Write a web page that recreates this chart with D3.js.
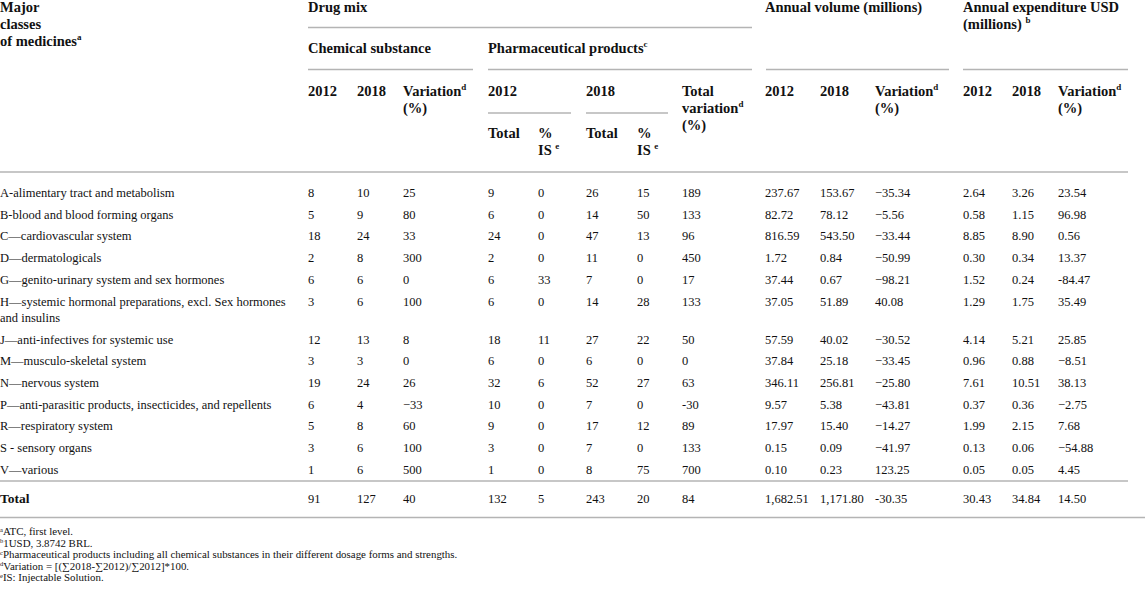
<!DOCTYPE html>
<html>
<head>
<meta charset="utf-8">
<script src="https://cdn.jsdelivr.net/npm/d3@7"></script>
<style>
  body { margin: 0; background: #fff; }
  text { font-family: "Liberation Serif", "Times New Roman", serif; fill: #111; }
</style>
</head>
<body>
<svg id="table" width="1145" height="600"></svg>
<script>
"use strict";

// data
const classes = [
    "A-alimentary tract and metabolism",
    "B-blood and blood forming organs",
    "C\u2014cardiovascular system",
    "D\u2014dermatologicals",
    "G\u2014genito-urinary system and sex hormones",
    "H\u2014systemic hormonal preparations, excl. Sex hormones and insulins",
    "J\u2014anti-infectives for systemic use",
    "M\u2014musculo-skeletal system",
    "N\u2014nervous system",
    "P\u2014anti-parasitic products, insecticides, and repellents",
    "R\u2014respiratory system",
    "S - sensory organs",
    "V\u2014various"
];
const chem2012 = [8, 5, 18, 2, 6, 3, 12, 3, 19, 6, 5, 3, 1];
const chem2018 = [10, 9, 24, 8, 6, 6, 13, 3, 24, 4, 8, 6, 6];
const chemVar  = ["25", "80", "33", "300", "0", "100", "8", "0", "26", "\u221233", "60", "100", "500"];
const pp2012   = [9, 6, 24, 2, 6, 6, 18, 6, 32, 10, 9, 3, 1];
const pp2012IS = [0, 0, 0, 0, 33, 0, 11, 0, 6, 0, 0, 0, 0];
const pp2018   = [26, 14, 47, 11, 7, 14, 27, 6, 52, 7, 17, 7, 8];
const pp2018IS = [15, 50, 13, 0, 0, 28, 22, 0, 27, 0, 12, 0, 75];
const ppVar    = ["189", "133", "96", "450", "17", "133", "50", "0", "63", "-30", "89", "133", "700"];
const vol2012  = ["237.67", "82.72", "816.59", "1.72", "37.44", "37.05", "57.59", "37.84", "346.11", "9.57", "17.97", "0.15", "0.10"];
const vol2018  = ["153.67", "78.12", "543.50", "0.84", "0.67", "51.89", "40.02", "25.18", "256.81", "5.38", "15.40", "0.09", "0.23"];
const volVar   = ["\u221235.34", "\u22125.56", "\u221233.44", "\u221250.99", "\u221298.21", "40.08", "\u221230.52", "\u221233.45", "\u221225.80", "\u221243.81", "\u221214.27", "\u221241.97", "123.25"];
const exp2012  = ["2.64", "0.58", "8.85", "0.30", "1.52", "1.29", "4.14", "0.96", "7.61", "0.37", "1.99", "0.13", "0.05"];
const exp2018  = ["3.26", "1.15", "8.90", "0.34", "0.24", "1.75", "5.21", "0.88", "10.51", "0.36", "2.15", "0.06", "0.05"];
const expVar   = ["23.54", "96.98", "0.56", "13.37", "-84.47", "35.49", "25.85", "\u22128.51", "38.13", "\u22122.75", "7.68", "\u221254.88", "4.45"];
const totalRow = ["Total", "91", "127", "40", "132", "5", "243", "20", "84", "1,682.51", "1,171.80", "-30.35", "30.43", "34.84", "14.50"];

const footnotes = [
    ["a", "ATC, first level."],
    ["b", "1USD, 3.8742 BRL."],
    ["c", "Pharmaceutical products including all chemical substances in their different dosage forms and strengths."],
    ["d", "Variation = [(\u22112018-\u22112012)/\u22112012]*100."],
    ["e", "IS: Injectable Solution."]
];



// layout
const fontSize = 12.5,
      headSize = 14.5,
      noteSize = 10.9,
      lineGap = 17,
      rowPitch = 21.7,
      labelWrap = 290,
      ruleColor = "#b4b4b4";

const colKeys = ["label", "c12", "c18", "cVar", "p12", "p12is", "p18", "p18is", "pVar", "v12", "v18", "vVar", "e12", "e18", "eVar"];
const scaleCol = d3.scaleOrdinal()
    .domain(colKeys)
    .range([0, 308, 357, 403, 488, 538, 586, 637, 682, 765, 820, 875, 963, 1012, 1058]);

const svg = d3.select("#table");



// text helper: "^x" marks a superscript letter
function addText(g, x, y, str, opts) {
    opts = opts || {};
    let size = opts.size || (opts.bold ? headSize : fontSize);
    let t = g.append("text")
        .attr("x", x)
        .attr("y", y)
        .attr("font-size", size)
        .attr("font-weight", opts.bold ? "bold" : "normal");
    let shift = size * 0.38, pending = 0;
    str.split(/(\^\w)/).forEach(p => {
        if (p === "") return;
        if (p[0] === "^") {
            t.append("tspan")
                .attr("dy", -shift)
                .attr("font-size", size * 0.62)
                .text(p.slice(1));
            pending = shift;
        } else {
            t.append("tspan").attr("dy", pending).text(p);
            pending = 0;
        }
    });
    return t;
}

function rule(x1, x2, y, w) {
    svg.append("line")
        .attr("x1", x1).attr("x2", x2)
        .attr("y1", y).attr("y2", y)
        .attr("stroke", ruleColor)
        .attr("stroke-width", w || 1.4);
}



// header
const head = svg.append("g").attr("class", "header");
["Major", "classes", "of medicines^a"].forEach((s, i) => addText(head, 0, 12 + i * lineGap, s, {bold: true}));

addText(head, scaleCol("c12"), 12, "Drug mix", {bold: true});
rule(scaleCol("c12"), 752, 27.5);

addText(head, scaleCol("c12"), 53, "Chemical substance", {bold: true});
addText(head, scaleCol("p12"), 53, "Pharmaceutical products^c", {bold: true});
rule(scaleCol("c12"), 473, 69.5);
rule(scaleCol("p12"), 752, 69.5);

addText(head, scaleCol("v12"), 12, "Annual volume (millions)", {bold: true});
rule(scaleCol("v12") + 1, 949, 69.5);
addText(head, scaleCol("e12"), 12, "Annual expenditure USD", {bold: true});
addText(head, scaleCol("e12"), 29, "(millions) ^b", {bold: true});
rule(scaleCol("e12"), 1128, 69.5);

// year row
[["c12", "2012"], ["c18", "2018"], ["p12", "2012"], ["p18", "2018"],
 ["v12", "2012"], ["v18", "2018"], ["e12", "2012"], ["e18", "2018"]]
.forEach(d => addText(head, scaleCol(d[0]), 96, d[1], {bold: true}));

["cVar", "vVar", "eVar"].forEach(k => {
    addText(head, scaleCol(k), 96, "Variation^d", {bold: true});
    addText(head, scaleCol(k), 113, "(%)", {bold: true});
});
["Total", "variation^d", "(%)"].forEach((s, i) => addText(head, scaleCol("pVar"), 96 + i * lineGap, s, {bold: true}));

rule(scaleCol("p12"), 571, 113);
rule(scaleCol("p18"), 668, 113);
["p12", "p18"].forEach(k => addText(head, scaleCol(k), 138, "Total", {bold: true}));
["p12is", "p18is"].forEach(k => {
    addText(head, scaleCol(k), 138, "%", {bold: true});
    addText(head, scaleCol(k), 155, "IS ^e", {bold: true});
});

rule(0, 1128, 172);



// body rows
const body = svg.append("g").attr("class", "body");
let y = 197;
classes.forEach((c, i) => {
    // wrap label
    let words = c.split(" "), lines = [], cur = "";
    let probe = body.append("text").attr("font-size", fontSize);
    words.forEach(w => {
        let test = cur ? cur + " " + w : w;
        probe.text(test);
        if (probe.node().getComputedTextLength() > labelWrap && cur) {
            lines.push(cur);
            cur = w;
        } else {
            cur = test;
        }
    });
    lines.push(cur);
    probe.remove();

    lines.forEach((l, j) => addText(body, scaleCol("label"), y + j * 16, l));

    let vals = [chem2012[i], chem2018[i], chemVar[i], pp2012[i], pp2012IS[i], pp2018[i], pp2018IS[i], ppVar[i],
                vol2012[i], vol2018[i], volVar[i], exp2012[i], exp2018[i], expVar[i]];
    vals.forEach((v, k) => addText(body, scaleCol(colKeys[k + 1]), y, String(v)));

    y += rowPitch + (lines.length - 1) * 16.4;
});

// total
rule(0, 1128, 481);
totalRow.forEach((v, k) => addText(body, scaleCol(colKeys[k]), 503, v, k === 0 ? {bold: true, size: 13.5} : {}));
rule(0, 1145, 517.5);



// footnotes
const notes = svg.append("g").attr("class", "notes");
footnotes.forEach((n, i) => {
    let t = notes.append("text")
        .attr("x", 0)
        .attr("y", 535 + i * 11.6)
        .attr("font-size", noteSize);
    t.append("tspan").attr("font-size", noteSize * 0.6).attr("dy", -3.5).text(n[0]);
    t.append("tspan").attr("dy", 3.5).text(n[1]);
});
</script>
</body>
</html>
